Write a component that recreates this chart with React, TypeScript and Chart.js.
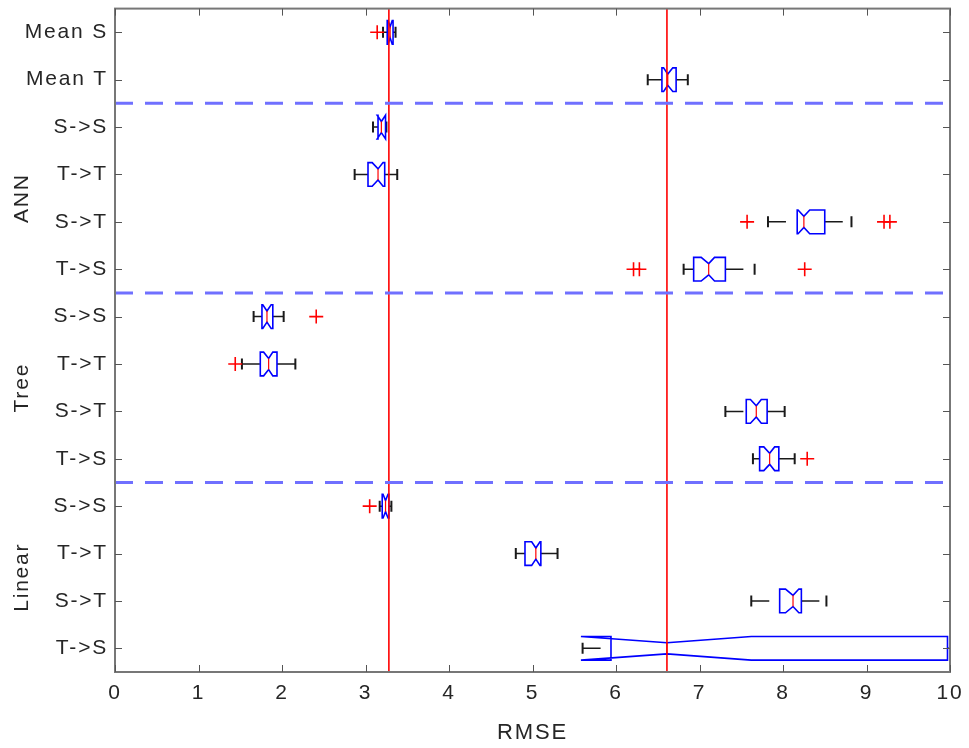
import React, { useEffect, useRef } from 'react';
import { Chart, registerables } from 'chart.js';
Chart.register(...registerables);

// ---- data ----
const rowLabels = ['Mean S', 'Mean T', 'S->S', 'T->T', 'S->T', 'T->S', 'S->S', 'T->T', 'S->T', 'T->S', 'S->S', 'T->T', 'S->T', 'T->S'];
const groupLabels = ['ANN', 'Tree', 'Linear'];
const groupCenters = [4.5, 8.5, 12.5];
const separators = [2.5, 6.5, 10.5];
const refLines = [3.28, 6.61];
const xTickValues = [0, 1, 2, 3, 4, 5, 6, 7, 8, 9, 10];
const xTitle = 'RMSE';

const whiskerLow = [3.21, 6.38, 3.09, 2.87, 7.82, 6.81, 1.66, 1.52, 7.31, 7.64, 3.17, 4.80, 7.62, 5.60];
const q1 = [3.26, 6.55, 3.15, 3.03, 8.17, 6.93, 1.76, 1.74, 7.56, 7.72, 3.20, 4.91, 7.96, 5.94];
const notchLow = [3.27, 6.57, 3.14, 3.08, 8.18, 7.02, 1.77, 1.78, 7.61, 7.77, 3.21, 4.99, 8.03, 5.58];
const median = [3.295, 6.62, 3.19, 3.15, 8.25, 7.11, 1.82, 1.84, 7.68, 7.84, 3.24, 5.04, 8.12, 6.61];
const notchHigh = [3.32, 6.68, 3.24, 3.21, 8.32, 7.18, 1.87, 1.89, 7.74, 7.90, 3.27, 5.09, 8.19, 7.62];
const q3 = [3.33, 6.72, 3.24, 3.23, 8.50, 7.31, 1.89, 1.94, 7.81, 7.95, 3.28, 5.10, 8.22, 9.97];
const whiskerHigh = [3.36, 6.86, 3.25, 3.38, 8.82, 7.66, 2.02, 2.16, 8.02, 8.14, 3.31, 5.30, 8.52, 12.0];
const outliers: number[][] = [
  [3.14], [], [], [], [7.57, 9.21, 9.28], [6.21, 6.28, 8.26],
  [2.41], [1.44], [], [8.29], [3.05], [], [], [],
];

const FONT = '"Liberation Sans", Arial, Helvetica, sans-serif';
const TEXT_COLOR = '#262626';
const LETTER_SPACING = '1.8px';

const boxPlugin = {
  id: 'notchBoxes',
  beforeDraw(chart: any) {
    try { chart.ctx.letterSpacing = LETTER_SPACING; } catch (e) { /* ignore */ }
  },
  beforeDatasetsDraw(chart: any) {
    const { ctx, chartArea, scales } = chart;
    const x = scales.x;
    const y = scales.y;
    const rowH = Math.abs(y.getPixelForValue(2) - y.getPixelForValue(1));
    const hw = rowH * 0.25;
    const nw = hw * 0.47;
    const capH = 5.5;
    const px = (v: number) => x.getPixelForValue(v);
    ctx.save();
    ctx.beginPath();
    ctx.rect(chartArea.left, chartArea.top, chartArea.right - chartArea.left, chartArea.bottom - chartArea.top);
    ctx.clip();
    for (let i = 0; i < rowLabels.length; i++) {
      const cy = y.getPixelForValue(i + 1);
      // whiskers (dashed)
      ctx.strokeStyle = '#1a1a1a';
      ctx.lineWidth = 1.5;
      ctx.setLineDash([18, 11]);
      ctx.beginPath();
      ctx.moveTo(px(whiskerLow[i]), cy);
      ctx.lineTo(px(q1[i]), cy);
      ctx.stroke();
      ctx.beginPath();
      ctx.moveTo(px(q3[i]), cy);
      ctx.lineTo(px(whiskerHigh[i]), cy);
      ctx.stroke();
      ctx.setLineDash([]);
      // caps
      ctx.lineWidth = 2;
      ctx.beginPath();
      ctx.moveTo(px(whiskerLow[i]), cy - capH);
      ctx.lineTo(px(whiskerLow[i]), cy + capH);
      ctx.moveTo(px(whiskerHigh[i]), cy - capH);
      ctx.lineTo(px(whiskerHigh[i]), cy + capH);
      ctx.stroke();
      // notched box
      ctx.strokeStyle = '#0000ff';
      ctx.lineWidth = 1.6;
      ctx.beginPath();
      ctx.moveTo(px(q1[i]), cy - hw);
      ctx.lineTo(px(notchLow[i]), cy - hw);
      ctx.lineTo(px(median[i]), cy - nw);
      ctx.lineTo(px(notchHigh[i]), cy - hw);
      ctx.lineTo(px(q3[i]), cy - hw);
      ctx.lineTo(px(q3[i]), cy + hw);
      ctx.lineTo(px(notchHigh[i]), cy + hw);
      ctx.lineTo(px(median[i]), cy + nw);
      ctx.lineTo(px(notchLow[i]), cy + hw);
      ctx.lineTo(px(q1[i]), cy + hw);
      ctx.closePath();
      ctx.stroke();
      // median
      ctx.strokeStyle = '#ff0000';
      ctx.lineWidth = 1.2;
      ctx.beginPath();
      ctx.moveTo(px(median[i]), cy - nw);
      ctx.lineTo(px(median[i]), cy + nw);
      ctx.stroke();
    }
    ctx.restore();
  },
  afterDraw(chart: any) {
    const { ctx, chartArea, scales } = chart;
    const x = scales.x;
    const y = scales.y;
    ctx.save();
    // frame
    ctx.strokeStyle = '#777777';
    ctx.lineWidth = 2;
    ctx.strokeRect(chartArea.left, chartArea.top, chartArea.right - chartArea.left, chartArea.bottom - chartArea.top);
    // inward ticks
    ctx.lineWidth = 1;
    ctx.strokeStyle = '#555555';
    const tl = 7;
    ctx.beginPath();
    xTickValues.forEach((v) => {
      const p = Math.round(x.getPixelForValue(v)) + 0.5;
      ctx.moveTo(p, chartArea.bottom);
      ctx.lineTo(p, chartArea.bottom - tl);
      ctx.moveTo(p, chartArea.top);
      ctx.lineTo(p, chartArea.top + tl);
    });
    rowLabels.forEach((_, i) => {
      const p = Math.round(y.getPixelForValue(i + 1)) + 0.5;
      ctx.moveTo(chartArea.left, p);
      ctx.lineTo(chartArea.left + tl, p);
      ctx.moveTo(chartArea.right, p);
      ctx.lineTo(chartArea.right - tl, p);
    });
    ctx.stroke();
    // group labels
    ctx.fillStyle = TEXT_COLOR;
    ctx.font = `21px ${FONT}`;
    ctx.textAlign = 'center';
    ctx.textBaseline = 'middle';
    groupLabels.forEach((g, i) => {
      ctx.save();
      ctx.translate(22, y.getPixelForValue(groupCenters[i]));
      ctx.rotate(-Math.PI / 2);
      ctx.fillText(g, 0, 0);
      ctx.restore();
    });
    ctx.restore();
  },
};

export default function App() {
  const ref = useRef<HTMLCanvasElement | null>(null);
  useEffect(() => {
    if (!ref.current) return;
    const outlierPoints = outliers.flatMap((arr, i) => arr.map((v) => ({ x: v, y: i + 1 })));
    const datasets: any[] = [
      ...separators.map((s) => ({
        data: [{ x: 0, y: s }, { x: 10, y: s }],
        showLine: true,
        borderColor: '#7070ff',
        borderWidth: 3,
        borderDash: [18, 12],
        pointRadius: 0,
      })),
      ...refLines.map((v) => ({
        data: [{ x: v, y: 0.5 }, { x: v, y: 14.5 }],
        showLine: true,
        borderColor: '#ff0000',
        borderWidth: 1.6,
        pointRadius: 0,
      })),
      {
        data: outlierPoints,
        showLine: false,
        pointStyle: 'cross',
        pointRadius: 7,
        borderColor: '#ff0000',
        backgroundColor: '#ff0000',
        borderWidth: 1.6,
      },
    ];
    const chart = new Chart(ref.current, {
      type: 'scatter',
      data: { datasets },
      plugins: [boxPlugin],
      options: {
        animation: false,
        responsive: false,
        devicePixelRatio: 1,
        layout: { padding: { top: 8, right: 19, left: 0, bottom: 0 } },
        plugins: { legend: { display: false }, tooltip: { enabled: false } },
        scales: {
          x: {
            type: 'linear',
            min: 0,
            max: 10,
            border: { display: false },
            grid: { display: false, drawTicks: false },
            afterBuildTicks: (scale: any) => {
              scale.ticks = xTickValues.map((v) => ({ value: v }));
            },
            afterFit: (scale: any) => {
              scale.height = 76;
              scale.paddingLeft = 0;
              scale.paddingRight = 0;
            },
            ticks: {
              color: TEXT_COLOR,
              font: { family: FONT, size: 21 },
              padding: 9,
              maxRotation: 0,
              autoSkip: false,
              callback: (v: any) => String(v),
            },
            title: {
              display: true,
              text: xTitle,
              color: TEXT_COLOR,
              font: { family: FONT, size: 22 },
              padding: { top: 0, bottom: 2 },
            },
          },
          y: {
            type: 'linear',
            min: 0.5,
            max: 14.5,
            reverse: true,
            border: { display: false },
            grid: { display: false, drawTicks: false },
            afterBuildTicks: (scale: any) => {
              scale.ticks = rowLabels.map((_, i) => ({ value: i + 1 }));
            },
            afterFit: (scale: any) => {
              scale.width = 115;
              scale.paddingTop = 0;
              scale.paddingBottom = 0;
            },
            ticks: {
              color: TEXT_COLOR,
              font: { family: FONT, size: 21 },
              padding: 7,
              autoSkip: false,
              callback: (v: any) => rowLabels[Math.round(v) - 1] ?? '',
            },
          },
        },
      },
    });
    return () => chart.destroy();
  }, []);
  return (
    <div style={{ position: 'fixed', left: 0, top: 0, width: 969, height: 748, background: '#fff' }}>
      <canvas ref={ref} width={969} height={748} style={{ width: 969, height: 748, display: 'block' }} />
    </div>
  );
}
